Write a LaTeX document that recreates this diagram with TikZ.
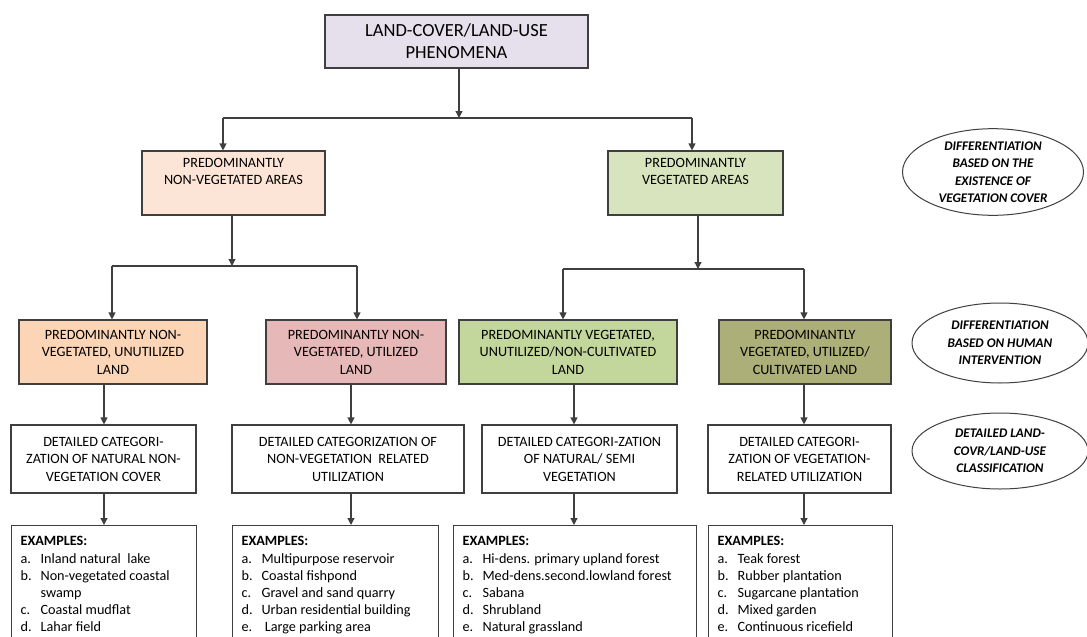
\documentclass[tikz,border=0pt]{standalone}
\usepackage{fontspec}
\setmainfont{Carlito}
\usetikzlibrary{arrows.meta,shapes.geometric}

\definecolor{boxline}{HTML}{3F3F3F}
\definecolor{phenom}{HTML}{E5E0EC}
\definecolor{nonveg}{HTML}{FCE4D6}
\definecolor{veg}{HTML}{D7E4BD}
\definecolor{nvunused}{HTML}{FBD5B5}
\definecolor{nvused}{HTML}{E6B8B7}
\definecolor{vunused}{HTML}{C3D69B}
\definecolor{vused}{HTML}{ADAF78}

\begin{document}
\begin{tikzpicture}[x=1pt,y=-1pt,
    arr/.style={draw=boxline,line width=1.2pt,-{Triangle[length=7pt,width=7pt]}},
    conn/.style={draw=boxline,line width=1.2pt}]
\useasboundingbox (0,0) rectangle (1087,637);
\fill[white] (0,0) rectangle (1087,637);
\clip (0,0) rectangle (1087,637);

% columns of the lower arrows
\coordinate (col1) at (104,0);
\coordinate (col2) at (351,0);
\coordinate (col3) at (574,0);
\coordinate (col4) at (804,0);

\begin{scope}[every node/.style={rectangle,draw=boxline,line width=1.2pt,
      inner sep=0pt,align=center,font=\fontsize{14.2}{17.5}\selectfont}]
    \node[fill=phenom,minimum width=263pt,minimum height=53pt,
          font=\fontsize{18.5}{22}\selectfont] (lclu) at (456.5,41.5)
          {LAND-COVER/LAND-USE\\PHENOMENA};
    % existence of vegetation
    \node[fill=nonveg,minimum width=183pt,minimum height=64pt] (nveg) at (233.5,183)
          {PREDOMINANTLY\\NON-VEGETATED AREAS\\ \strut};
    \node[fill=veg,minimum width=175pt,minimum height=64pt] (veg) at (695.5,183)
          {PREDOMINANTLY\\VEGETATED AREAS\\ \strut};
    % human intervention
    \node[fill=nvunused,minimum width=188pt,minimum height=64pt] (nvul) at (113,352)
          {PREDOMINANTLY NON-\\VEGETATED, UNUTILIZED\\LAND};
    \node[fill=nvused,minimum width=180pt,minimum height=64pt] (nvl) at (356,352)
          {PREDOMINANTLY NON-\\VEGETATED, UTILIZED\\LAND};
    \node[fill=vunused,minimum width=218pt,minimum height=64pt] (vul) at (568,352)
          {PREDOMINANTLY VEGETATED,\\UNUTILIZED/NON-CULTIVATED\\LAND};
    \node[fill=vused,minimum width=172pt,minimum height=64pt] (vl) at (805,352)
          {PREDOMINANTLY\\VEGETATED, UTILIZED/\\CULTIVATED LAND};
    % detailed categories
    \node[fill=white,minimum width=185pt,minimum height=68pt] (cat1) at (103.5,459)
          {DETAILED CATEGORI-\\ZATION OF NATURAL NON-\\VEGETATION COVER};
    \node[fill=white,minimum width=232pt,minimum height=68pt] (cat2) at (348,459)
          {DETAILED CATEGORIZATION OF\\NON-VEGETATION\ \ RELATED\\UTILIZATION};
    \node[fill=white,minimum width=195pt,minimum height=68pt] (cat3) at (579.5,459)
          {DETAILED CATEGORI-ZATION\\OF NATURAL/ SEMI\\VEGETATION};
    \node[fill=white,minimum width=183pt,minimum height=68pt] (cat4) at (799.5,459)
          {DETAILED CATEGORI-\\ZATION OF VEGETATION-\\RELATED UTILIZATION};
\end{scope}

% examples
\begin{scope}[every node/.style={rectangle,draw=boxline,line width=1.2pt,fill=white,
      anchor=north west,inner xsep=9pt,inner ysep=11pt,align=left,
      font=\fontsize{14.2}{17.2}\selectfont}]
    \node (ex1) at (11,525) {\parbox[t][120pt][t]{167pt}{\textbf{EXAMPLES:}\\
      \begin{tabular}[t]{@{}p{20pt}@{}l@{}}
      a. & Inland natural\ \ lake\\
      b. & Non-vegetated coastal\\
         & swamp\\
      c. & Coastal mudflat\\
      d. & Lahar field
      \end{tabular}}};
    \node (ex2) at (232,525) {\parbox[t][120pt][t]{188pt}{\textbf{EXAMPLES:}\\
      \begin{tabular}[t]{@{}p{20pt}@{}l@{}}
      a. & Multipurpose reservoir\\
      b. & Coastal fishpond\\
      c. & Gravel and sand quarry\\
      d. & Urban residential building\\
      e. & \ Large parking area
      \end{tabular}}};
    \node (ex3) at (453,525) {\parbox[t][120pt][t]{225pt}{\textbf{EXAMPLES:}\\
      \begin{tabular}[t]{@{}p{20pt}@{}l@{}}
      a. & Hi-dens. primary upland forest\\
      b. & Med-dens.second.lowland forest\\
      c. & Sabana\\
      d. & Shrubland\\
      e. & Natural grassland
      \end{tabular}}};
    \node (ex4) at (708,525) {\parbox[t][120pt][t]{166pt}{\textbf{EXAMPLES:}\\
      \begin{tabular}[t]{@{}p{20pt}@{}l@{}}
      a. & Teak forest\\
      b. & Rubber plantation\\
      c. & Sugarcane plantation\\
      d. & Mixed garden\\
      e. & Continuous ricefield
      \end{tabular}}};
\end{scope}

% levels of differentiation
\begin{scope}[every node/.style={ellipse,draw=boxline,line width=1pt,inner sep=0pt,
      align=center,font=\fontsize{13.2}{17.5}\selectfont\bfseries\itshape}]
    \node[minimum width=181pt,minimum height=86pt] (diffveg) at (993,172)
          {DIFFERENTIATION\\BASED ON THE\\EXISTENCE OF\\VEGETATION COVER};
    \node[minimum width=176pt,minimum height=80pt] (diffhum) at (1000,343)
          {DIFFERENTIATION\\BASED ON HUMAN\\INTERVENTION};
    \node[minimum width=176pt,minimum height=76pt] (detcls) at (1000,451)
          {DETAILED LAND-\\COVR/LAND-USE\\CLASSIFICATION};
\end{scope}

% first split
\coordinate (j0) at (459,118);
\coordinate (j0l) at (223,118);
\coordinate (j0r) at (692,118);
\draw[arr] (lclu.south -| j0) -- (j0);
\draw[conn] (j0l) -- (j0r);
\draw[arr] (j0l) -- (j0l |- nveg.north);
\draw[arr] (j0r) -- (j0r |- veg.north);

% second split, non-vegetated
\coordinate (j1) at (232,266);
\coordinate (j1l) at (112,266);
\coordinate (j1r) at (357,266);
\draw[arr] (nveg.south -| j1) -- (j1);
\draw[conn] (j1l) -- (j1r);
\draw[arr] (j1l) -- (j1l |- nvul.north);
\draw[arr] (j1r) -- (j1r |- nvl.north);

% second split, vegetated
\coordinate (j2) at (698,269);
\coordinate (j2l) at (563,269);
\coordinate (j2r) at (804,269);
\draw[arr] (veg.south -| j2) -- (j2);
\draw[conn] (j2l) -- (j2r);
\draw[arr] (j2l) -- (j2l |- vul.north);
\draw[arr] (j2r) -- (j2r |- vl.north);

% down the columns
\draw[arr] (nvul.south -| col1) -- (cat1.north -| col1);
\draw[arr] (nvl.south -| col2) -- (cat2.north -| col2);
\draw[arr] (vul.south -| col3) -- (cat3.north -| col3);
\draw[arr] (vl.south -| col4) -- (cat4.north -| col4);
\draw[arr] (cat1.south -| col1) -- (ex1.north -| col1);
\draw[arr] (cat2.south -| col2) -- (ex2.north -| col2);
\draw[arr] (cat3.south -| col3) -- (ex3.north -| col3);
\draw[arr] (cat4.south -| col4) -- (ex4.north -| col4);
\end{tikzpicture}
\end{document}
